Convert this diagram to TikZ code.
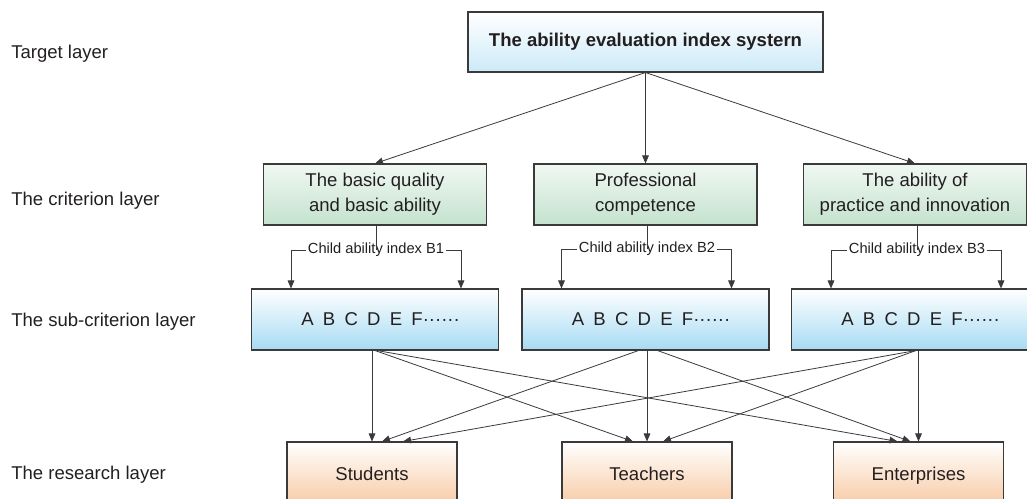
\documentclass[tikz,border=0pt]{standalone}
\usepackage{fontspec}
\setmainfont{Liberation Sans}
\usetikzlibrary{arrows.meta,calc}
\definecolor{linegray}{HTML}{3A3A3A}
\definecolor{txtgray}{HTML}{231F20}
\definecolor{topblue}{HTML}{CDEAF8}
\definecolor{critgreen}{HTML}{C4E2CD}
\definecolor{subblue}{HTML}{A6DBF3}
\definecolor{resorange}{HTML}{F8CBA6}
\newcommand\abcrow{A\hspace{0.5em}B\hspace{0.5em}C\hspace{0.5em}D\hspace{0.5em}E\hspace{0.5em}F······}
\tikzset{
  box/.style={draw=linegray, line width=0.8pt, text=txtgray, align=center, inner sep=0pt,
    font=\fontsize{13.9}{18.75}\selectfont},
  targetbox/.style={box, minimum width=266.25pt, minimum height=45pt,
    top color=white, bottom color=topblue, font=\fontsize{13.9}{18.75}\selectfont\bfseries},
  critbox/.style={box, minimum width=167.25pt, minimum height=45.75pt,
    top color=critgreen!25, bottom color=critgreen},
  subbox/.style={box, minimum width=185.25pt, minimum height=45.75pt,
    top color=white, bottom color=subblue},
  resbox/.style={box, minimum width=127.5pt, minimum height=46.5pt,
    text height=12pt, text depth=1pt, top color=white, bottom color=resorange},
  layer/.style={anchor=west, text=txtgray, inner sep=0pt, font=\fontsize{13.9}{16}\selectfont},
  childlbl/.style={text=txtgray, inner sep=1pt, font=\fontsize{11}{13}\selectfont},
  link/.style={draw=linegray, line width=0.6pt},
  arr/.style={link, -{Triangle[length=6pt,width=5pt]}},
}
\begin{document}
\begin{tikzpicture}[x=0.75pt,y=-0.75pt]
  \useasboundingbox (0,0) rectangle (1027,499);
  \clip (0,0) rectangle (1027,499);
  % layer names
  \node[layer] (ltarget) at (11,54) {Target layer};
  \node[layer] (lcrit) at (11,201) {The criterion layer};
  \node[layer] (lsub) at (11,322) {The sub-criterion layer};
  \node[layer] (lres) at (11,475) {The research layer};
  % boxes
  \node[targetbox] (top) at (645.5,42) {The ability evaluation index systern};
  \node[critbox] (c1) at (375,194.5) {The basic quality\\and basic ability};
  \node[critbox] (c2) at (645.5,194.5) {Professional\\competence};
  \node[critbox] (c3) at (915,194.5) {The ability of\\practice and innovation};
  \node[subbox] (s1) at (375,319.5) {\hspace*{0.6em}\abcrow};
  \node[subbox] (s2) at (645.5,319.5) {\hspace*{0.6em}\abcrow};
  \node[subbox] (s3) at (915,319.5) {\hspace*{0.6em}\abcrow};
  \node[resbox] (r1) at (372,473) {Students};
  \node[resbox] (r2) at (647,473) {Teachers};
  \node[resbox] (r3) at (918.5,473) {Enterprises};
  % child ability labels
  \node[childlbl] (b1) at (376,250) {Child ability index B1};
  \node[childlbl] (b2) at (647,249) {Child ability index B2};
  \node[childlbl] (b3) at (917,250) {Child ability index B3};
  % target -> criterion
  \draw[arr] (top.south) -- (c1.north);
  \draw[arr] (top.south) -- (c2.north);
  \draw[arr] (top.south) -- (c3.north);
  % criterion -> sub-criterion
  \foreach \i in {1,2,3} {
    \draw[link] (c\i.south -| b\i.center) -- (b\i.center);
    \draw[arr] (b\i.mid west) -| ($(s\i.north)+(-84,0)$);
    \draw[arr] (b\i.mid east) -| ($(s\i.north)+(86,0)$);
  }
  % sub-criterion -> research
  \draw[arr] (r1.north |- s1.south) -- (r1.north);
  \draw[arr] ($(s1.south)+(0,0)$) -- ($(r2.north)+(-14,0)$);
  \draw[arr] ($(s1.south)+(2,0)$) -- ($(r3.north)+(-21,0)$);
  \draw[arr] ($(s2.south)+(-7,0)$) -- ($(r1.north)+(10,0)$);
  \draw[arr] (r2.north |- s2.south) -- (r2.north);
  \draw[arr] ($(s2.south)+(12,0)$) -- ($(r3.north)+(-8,0)$);
  \draw[arr] ($(s3.south)+(1,0)$) -- ($(r1.north)+(31,0)$);
  \draw[arr] ($(s3.south)+(1,0)$) -- ($(r2.north)+(16,0)$);
  \draw[arr] (r3.north |- s3.south) -- (r3.north);
\end{tikzpicture}
\end{document}
